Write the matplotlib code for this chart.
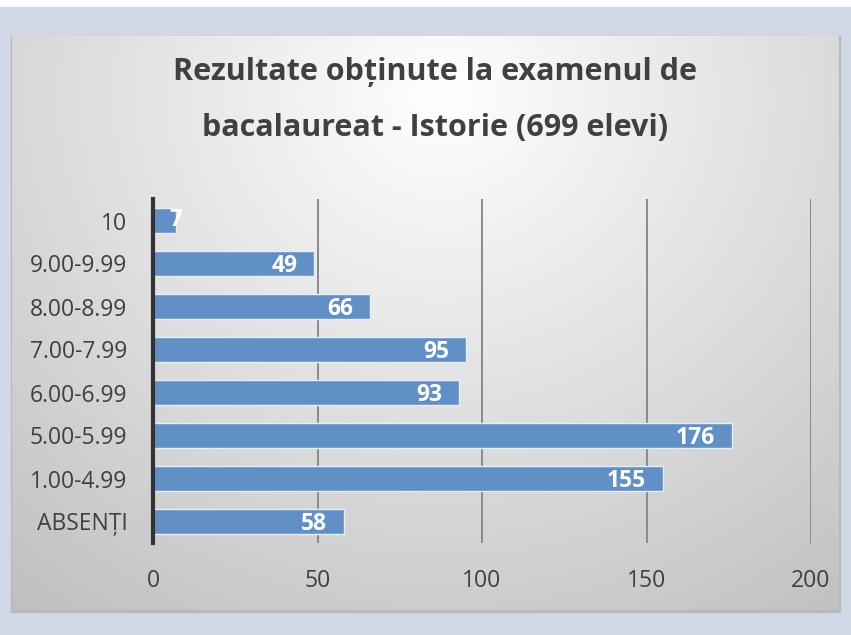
import numpy as np
import matplotlib
matplotlib.use("Agg")
import matplotlib.pyplot as plt
from matplotlib.patches import Rectangle

categorii = ["10", "9.00-9.99", "8.00-8.99", "7.00-7.99", "6.00-6.99",
             "5.00-5.99", "1.00-4.99", "ABSENȚI"]
elevi = [7, 49, 66, 95, 93, 176, 155, 58]
titlu1 = "Rezultate obținute la examenul de"
titlu2 = "bacalaureat - Istorie (699 elevi)"

plt.rcParams['font.family'] = ['Open Sans', 'DejaVu Sans']

W, H = 851, 635
fig = plt.figure(figsize=(W / 100, H / 100), dpi=100)
fig.patch.set_facecolor("white")

# fundal exterior + panou cu gradient
bg = fig.add_axes([0, 0, 1, 1])
bg.set_xlim(0, W)
bg.set_ylim(H, 0)
bg.axis("off")
bg.add_patch(Rectangle((0, 7), W, H - 7, color="#d1d9e8", zorder=0))
bg.add_patch(Rectangle((11, 36), 829, 576, color="#b9b9b9", zorder=1))

yy, xx = np.mgrid[0:574, 0:827]
cx, cy = 430, 60
d = np.sqrt(((xx - cx) / 700.0) ** 2 + ((yy - cy) / 650.0) ** 2)
d = np.clip(d, 0, 1)
val = 1.0 - 0.25 * d
img = np.dstack([val, val, val])
bg.imshow(img, extent=(12, 839, 610, 36), zorder=2, aspect="auto")

ax = fig.add_axes([153 / W, 1 - 543 / H, (811 - 153) / W, (543 - 199) / H])
ax.patch.set_alpha(0)

y = np.arange(len(categorii))
ax.barh(y, elevi, height=0.6, color="#6190c6", edgecolor="#e6eefa",
        linewidth=1, zorder=3)
ax.set_yticks(y)
ax.set_yticklabels(categorii, fontsize=16.5, color="#404040")
ax.set_ylim(len(categorii) - 0.5, -0.5)
ax.set_xlim(0, 200)
ax.set_xticks([0, 50, 100, 150, 200])
ax.tick_params(axis="x", length=0, pad=19, labelsize=16.5, labelcolor="#404040")
ax.tick_params(axis="y", length=0, pad=18.5)
ax.xaxis.grid(True, color="#8a8a8a", linewidth=1.4, zorder=1)
ax.set_axisbelow(True)
for s in ["top", "right", "bottom"]:
    ax.spines[s].set_visible(False)
ax.spines["left"].set_color("#333333")
ax.spines["left"].set_linewidth(3)
ax.spines["left"].set_zorder(5)

for yi, v in zip(y, elevi):
    if v < 15:
        ax.annotate(str(v), (v, yi), ha="center", va="center",
                    color="white", fontsize=16.5, fontweight="bold", zorder=4)
    else:
        ax.annotate(str(v), (v, yi), xytext=(-12, -1.5), textcoords="offset points",
                    ha="right", va="center", color="white", fontsize=16.5,
                    fontweight="bold", zorder=4)

fig.text(435 / W, 1 - 72 / H, titlu1, ha="center", va="center",
         fontsize=22, fontweight="bold", color="#404040")
fig.text(435 / W, 1 - 128 / H, titlu2, ha="center", va="center",
         fontsize=22, fontweight="bold", color="#404040")

fig.savefig("out.png", dpi=100)
